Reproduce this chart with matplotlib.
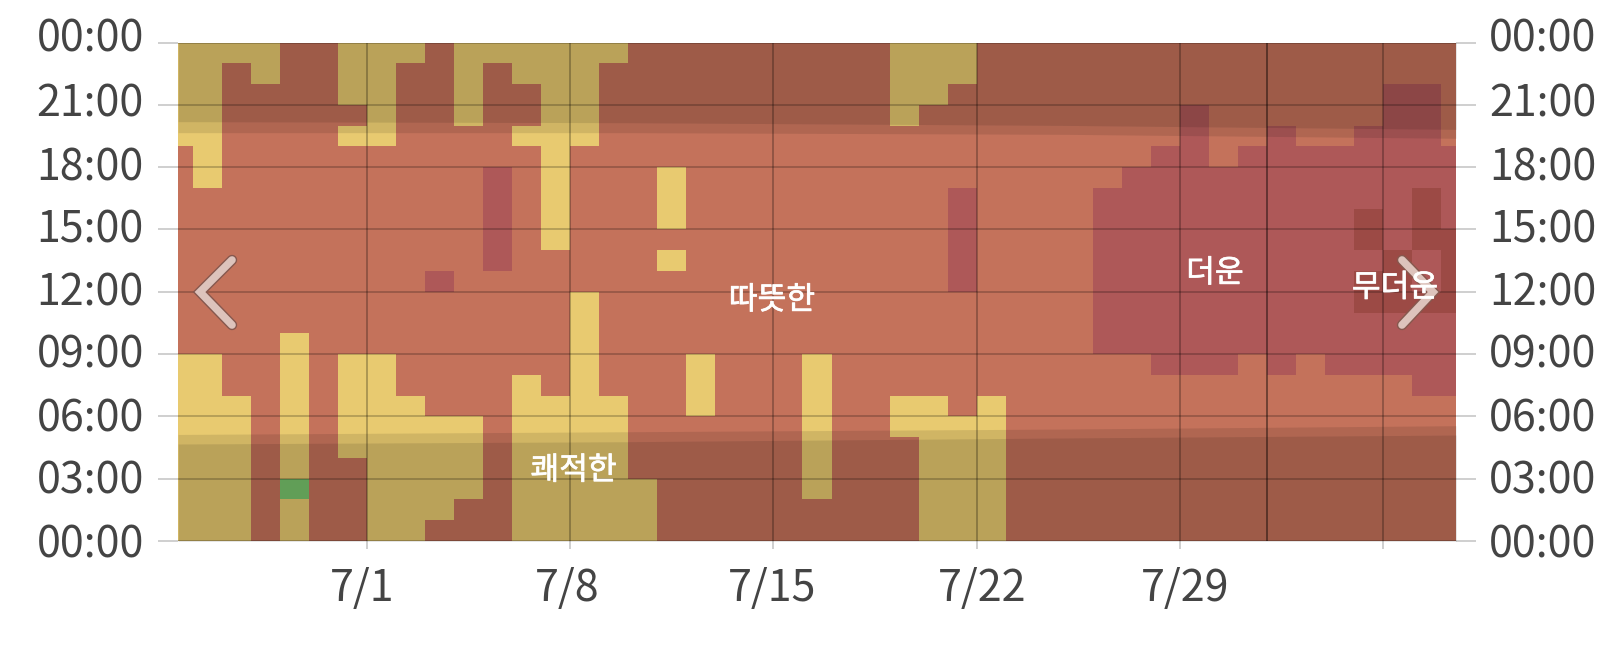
import matplotlib
matplotlib.use('Agg')
import matplotlib.pyplot as plt
import matplotlib.patheffects as pe
from matplotlib.colors import ListedColormap
from matplotlib.lines import Line2D
from matplotlib.transforms import ScaledTranslation
import numpy as np

plt.rcParams['font.family'] = ['Noto Sans CJK KR', 'DejaVu Sans']

# one string per hour, top row is 23:00-24:00, one letter per day column
# G cool, Y comfortable, O warm, R hot, D muggy
hour_rows = [
    "YYYYO OYYYO YYYYY YOOOO OOOOO YYYOO OOOOO OOOOO OOOOO",
    "YYOYO OYYOO YOYYY OOOOO OOOOO YYYOO OOOOO OOOOO OOOOO",
    "YYOOO OYYOO YOOYY OOOOO OOOOO YYOOO OOOOO OOOOO OORRO",
    "YYOOO OOYOO YOOYY OOOOO OOOOO YOOOO OOOOO ROOOO OORRO",
    "YYOOO OYYOO OOYYY OOOOO OOOOO OOOOO OOOOO ROORO ORRRO",
    "OYOOO OOOOO OOOYO OOOOO OOOOO OOOOO OOOOR RORRR RRRRR",
    "OYOOO OOOOO OROYO OOYOO OOOOO OOOOO OOORR RRRRR RRRRR",
    "OOOOO OOOOO OROYO OOYOO OOOOO OOROO OORRR RRRRR RRRDR",
    "OOOOO OOOOO OROYO OOYOO OOOOO OOROO OORRR RRRRR RDRDR",
    "OOOOO OOOOO OROYO OOOOO OOOOO OOROO OORRR RRRRR RDRDD",
    "OOOOO OOOOO OROOO OOYOO OOOOO OOROO OORRR RRRRR RRDRD",
    "OOOOO OOOOR OOOOO OOOOO OOOOO OOROO OORRR RRRRR RDDRD",
    "OOOOO OOOOO OOOOY OOOOO OOOOO OOOOO OORRR RRRRR RDDDD",
    "OOOOO OOOOO OOOOY OOOOO OOOOO OOOOO OORRR RRRRR RRRRR",
    "OOOOY OOOOO OOOOY OOOOO OOOOO OOOOO OORRR RRRRR RRRRR",
    "YYOOY OYYOO OOOOY OOOYO OOYOO OOOOO OOOOR RRORO RRRRR",
    "YYOOY OYYOO OOYOY OOOYO OOYOO OOOOO OOOOO OOOOO OOORR",
    "YYYOY OYYYO OOYYY YOOYO OOYOO YYOYO OOOOO OOOOO OOOOO",
    "YYYOY OYYYY YOYYY YOOOO OOYOO YYYYO OOOOO OOOOO OOOOO",
    "YYYOY OYYYY YOYYY YOOOO OOYOO OYYYO OOOOO OOOOO OOOOO",
    "YYYOY OOYYY YOYYY YOOOO OOYOO OYYYO OOOOO OOOOO OOOOO",
    "YYYOG OOYYY YOYYY YYOOO OOYOO OYYYO OOOOO OOOOO OOOOO",
    "YYYOY OOYYY OOYYY YYOOO OOOOO OYYYO OOOOO OOOOO OOOOO",
    "YYYOY OOYYO OOYYY YYOOO OOOOO OYYYO OOOOO OOOOO OOOOO",
]
levels = 'GYORD'
level_colors = ['#7AC56D', '#E8CA70', '#C4725B', '#AE5858', '#9C4A45']

# sunrise / sunset bands, in hours
sun_days = [-0.5, 15, 30, 43.5]
dawn_night = [4.67, 4.78, 4.96, 5.10]
dawn_twilight = [5.13, 5.26, 5.39, 5.55]
dusk_night = [20.19, 20.14, 20.01, 19.82]
dusk_twilight = [19.66, 19.66, 19.58, 19.39]

week_days = [6, 13, 20, 27, 34, 41]
week_labels = ['7/1', '7/8', '7/15', '7/22', '7/29', '']
week_label_shift = [-3.5, -2, -1, 3.8, 3.5, 0]
month_day = 37

hour_ticks = [0, 3, 6, 9, 12, 15, 18, 21, 24]
hour_labels = ['00:00', '03:00', '06:00', '09:00', '12:00', '15:00', '18:00', '21:00', '00:00']
hour_label_shift = [0.5, 1.5, 1.5, 2.5, 2.5, 2.5, 2.5, 3.5, 5.5]

zone_labels = ['쾌적한', '따뜻한', '더운', '무더운']
zone_x = [13.12, 19.95, 35.2, 41.4]
zone_y = [3.4, 11.6, 12.9, 12.2]

W, H = 1618, 645
fig = plt.figure(figsize=(W / 100, H / 100), dpi=100)
ax = fig.add_axes([178 / W, (H - 541) / H, 1278 / W, 498.5 / H])

rows = [r.replace(' ', '') for r in hour_rows]
Z = np.array([[levels.index(c) for c in r] for r in rows[::-1]])
x_edges = np.concatenate(([-0.5], np.arange(0, 44), [43.5]))
y_edges = np.arange(25)
ax.pcolormesh(x_edges, y_edges, Z, cmap=ListedColormap(level_colors), vmin=-0.5, vmax=4.5,
              antialiased=False, zorder=1)

# night shading, two layers so the twilight gets half of it
for low, high in [(dawn_night, dusk_night), (dawn_twilight, dusk_twilight)]:
    ax.fill_between(sun_days, 0, low, color='black', alpha=0.1, lw=0, zorder=2)
    ax.fill_between(sun_days, high, 24, color='black', alpha=0.1, lw=0, zorder=2)

for h in hour_ticks:
    ax.axhline(h, color='black', alpha=0.25, lw=1.2, zorder=3)
for d in week_days:
    ax.axvline(d, color='black', alpha=0.3, lw=1.2, zorder=3)
ax.axvline(month_day, color='black', alpha=0.5, lw=1.2, zorder=3)

ax.set_xlim(-0.5, 43.5)
ax.set_ylim(0, 24)
for s in ax.spines.values():
    s.set_visible(False)

ax.set_xticks(week_days)
ax.set_xticklabels(week_labels)
ax.set_yticks(hour_ticks)
ax.set_yticklabels(hour_labels)
ax.tick_params(axis='y', left=True, right=True, labelleft=True, labelright=True, length=14.5, width=1.4,
               color='#cfcfcf', labelsize=31, labelcolor='#444444', pad=10)
ax.tick_params(axis='x', length=6, width=1.4, color='#cfcfcf', labelsize=31, labelcolor='#444444', pad=12.5)

for lab, dx in zip(ax.get_xticklabels(), week_label_shift):
    lab.set_transform(lab.get_transform() + ScaledTranslation(dx / 72, 0, fig.dpi_scale_trans))
for tick, dy in zip(ax.yaxis.get_major_ticks(), hour_label_shift):
    tick.label1.set_transform(tick.label1.get_transform() + ScaledTranslation(0, dy / 72, fig.dpi_scale_trans))
    tick.label2.set_transform(tick.label2.get_transform() + ScaledTranslation(-0.5 / 72, dy / 72, fig.dpi_scale_trans))

# previous / next arrows of the page
for xs, ys in [((232, 200, 232), (260, 292, 325)), ((1402, 1433, 1402), (260, 292, 325))]:
    line = Line2D([x / W for x in xs], [1 - y / H for y in ys], transform=fig.transFigure, color='#DDC3BC',
                  lw=5.5, solid_capstyle='round', solid_joinstyle='miter', zorder=5,
                  path_effects=[pe.withStroke(linewidth=7.5, foreground='#86584E')])
    fig.add_artist(line)

for name, x, y in zip(zone_labels, zone_x, zone_y):
    fig.text(*fig.transFigure.inverted().transform(ax.transData.transform((x, y))), name,
             color='white', fontsize=22.5, ha='center', va='center', zorder=6,
             path_effects=[pe.withStroke(linewidth=0.5, foreground='white')])

fig.savefig('out.png', dpi=100)
